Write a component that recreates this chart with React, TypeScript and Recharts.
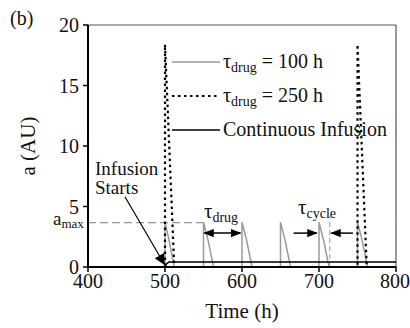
import React from "react"
import { LineChart, Line, XAxis, YAxis, ReferenceLine } from "recharts"

// tau_drug = 100 h pulses (gray)
const pulseTimes = [400, 500, 500, 505, 512, 550, 550, 556, 563, 600, 600, 606, 613, 650, 650, 656, 663, 700, 700, 706, 713, 750, 750, 756, 763, 800, 800]
const pulseValues = [0, 0, 3.7, 2.3, 0, 0, 3.7, 2.2, 0, 0, 3.7, 2.2, 0, 0, 3.7, 2.2, 0, 0, 3.7, 2.2, 0, 0, 3.7, 2.2, 0, 0, 3.7]

// tau_drug = 250 h pulses (dotted)
const longTimes = [400, 500, 500, 512, 750, 750, 762, 800]
const longValues = [0, 0, 18.4, 0, 0, 18.4, 0, 0]

// continuous infusion (solid black)
const contTimes = [400, 500, 502, 505, 800]
const contValues = [0, 0, 0.25, 0.42, 0.42]

const xTicks = [400, 500, 600, 700, 800]
const yTicks = [0, 5, 10, 15, 20]
const aMax = 3.66

const toPoints = (xs: number[], ys: number[]) => xs.map((t, i) => ({ t, v: ys[i] }))

const font = "Liberation Serif"

const legendItems = [
  { label: "100 h", tau: true, stroke: "#9a9a9a", dash: undefined, width: 1.5 },
  { label: "250 h", tau: true, stroke: "#000", dash: "2.5 3.5", width: 2.2 },
  { label: "Continuous Infusion", tau: false, stroke: "#000", dash: undefined, width: 1.5 },
]

function LegendBox({ x, y }: { x: number; y: number }) {
  return (
    <g>
      {legendItems.map((it, i) => {
        const cy = y + i * 34
        return (
          <g key={it.label}>
            <line x1={x} y1={cy} x2={x + 48} y2={cy} stroke={it.stroke} strokeWidth={it.width} strokeDasharray={it.dash} />
            <text x={x + 51} y={cy + 6} fontFamily={font} fontSize={20} fill="#111">
              {it.tau ? (
                <>
                  τ<tspan fontSize={14} dy={4}>drug</tspan>
                  <tspan dy={-4}> = {it.label}</tspan>
                </>
              ) : (
                it.label
              )}
            </text>
          </g>
        )
      })}
    </g>
  )
}

export default function App() {
  const txt = (size: number) => ({ fontFamily: font, fontSize: size, fill: "#111" })
  const tickStyle = { fontFamily: font, fontSize: 20, fill: "#111" }
  return (
    <div style={{ position: "absolute", left: 0, top: 0, width: 410, height: 328, background: "#fff" }}>
      <LineChart width={410} height={328} margin={{ top: 25, right: 14, left: 28, bottom: 31 }}>
        <defs>
          <marker id="ah" viewBox="0 0 10 10" refX={9} refY={5} markerWidth={7} markerHeight={7} orient="auto-start-reverse">
            <path d="M0,1 L10,5 L0,9 z" fill="#000" />
          </marker>
          <marker id="ahBig" viewBox="0 0 10 10" refX={9} refY={5} markerWidth={9} markerHeight={9} orient="auto">
            <path d="M0,0 L10,5 L0,10 z" fill="#000" />
          </marker>
        </defs>
        <XAxis
          type="number"
          dataKey="t"
          domain={[400, 800]}
          ticks={xTicks}
          allowDuplicatedCategory={false}
          height={30}
          tickSize={5}
          tickMargin={2}
          axisLine={{ stroke: "#000", strokeWidth: 2 }}
          tickLine={{ stroke: "#000", strokeWidth: 1.5 }}
          tick={tickStyle}
        />
        <YAxis
          type="number"
          domain={[0, 20]}
          ticks={yTicks}
          width={60}
          tickSize={5}
          tickMargin={4}
          axisLine={{ stroke: "#000", strokeWidth: 2 }}
          tickLine={{ stroke: "#000", strokeWidth: 1.5 }}
          tick={tickStyle}
        />
        <ReferenceLine y={20} stroke="#555" strokeWidth={1} />
        <ReferenceLine x={800} stroke="#333" strokeWidth={1} />
        <ReferenceLine segment={[{ x: 400, y: aMax }, { x: 550, y: aMax }]} stroke="#999" strokeWidth={1.3} strokeDasharray="8 4" />
        <ReferenceLine segment={[{ x: 714, y: 0 }, { x: 714, y: 4.2 }]} stroke="#999" strokeWidth={1} strokeDasharray="5 3" />
        <Line data={toPoints(pulseTimes, pulseValues)} dataKey="v" type="linear" stroke="#9a9a9a" strokeWidth={1.5} dot={false} isAnimationActive={false} />
        <Line data={toPoints(longTimes, longValues)} dataKey="v" type="linear" stroke="#000" strokeWidth={2.2} strokeDasharray="2.5 3.5" dot={false} isAnimationActive={false} />
        <Line data={toPoints(contTimes, contValues)} dataKey="v" type="linear" stroke="#000" strokeWidth={1.5} dot={false} isAnimationActive={false} />
        <ReferenceLine segment={[{ x: 448, y: 5.8 }, { x: 499, y: 0.25 }]} stroke="#000" strokeWidth={1.2} markerEnd="url(#ahBig)" />
        <ReferenceLine segment={[{ x: 551, y: 2.8 }, { x: 598, y: 2.8 }]} stroke="#000" strokeWidth={1.5} markerStart="url(#ah)" markerEnd="url(#ah)" />
        <ReferenceLine segment={[{ x: 667, y: 2.8 }, { x: 697, y: 2.8 }]} stroke="#000" strokeWidth={1.5} markerEnd="url(#ah)" />
        <ReferenceLine segment={[{ x: 744, y: 2.8 }, { x: 716, y: 2.8 }]} stroke="#000" strokeWidth={1.5} markerEnd="url(#ah)" />
        <LegendBox x={172} y={62} />
        <text x={10} y={25} {...txt(20)}>(b)</text>
        <text x={35} y={146} textAnchor="middle" transform="rotate(-90 35 146)" {...txt(21)}>a (AU)</text>
        <text x={242} y={318} textAnchor="middle" {...txt(21)}>Time (h)</text>
        <text x={95} y={175} {...txt(19)}>Infusion</text>
        <text x={95} y={194} {...txt(19)}>Starts</text>
        <text x={53} y={225} {...txt(19)}>
          a<tspan fontSize={13} dy={3}>max</tspan>
        </text>
        <text x={204} y={218} {...txt(21)}>
          τ<tspan fontSize={14} dy={4}>drug</tspan>
        </text>
        <text x={298} y={214} {...txt(21)}>
          τ<tspan fontSize={14} dy={4}>cycle</tspan>
        </text>
      </LineChart>
    </div>
  )
}
